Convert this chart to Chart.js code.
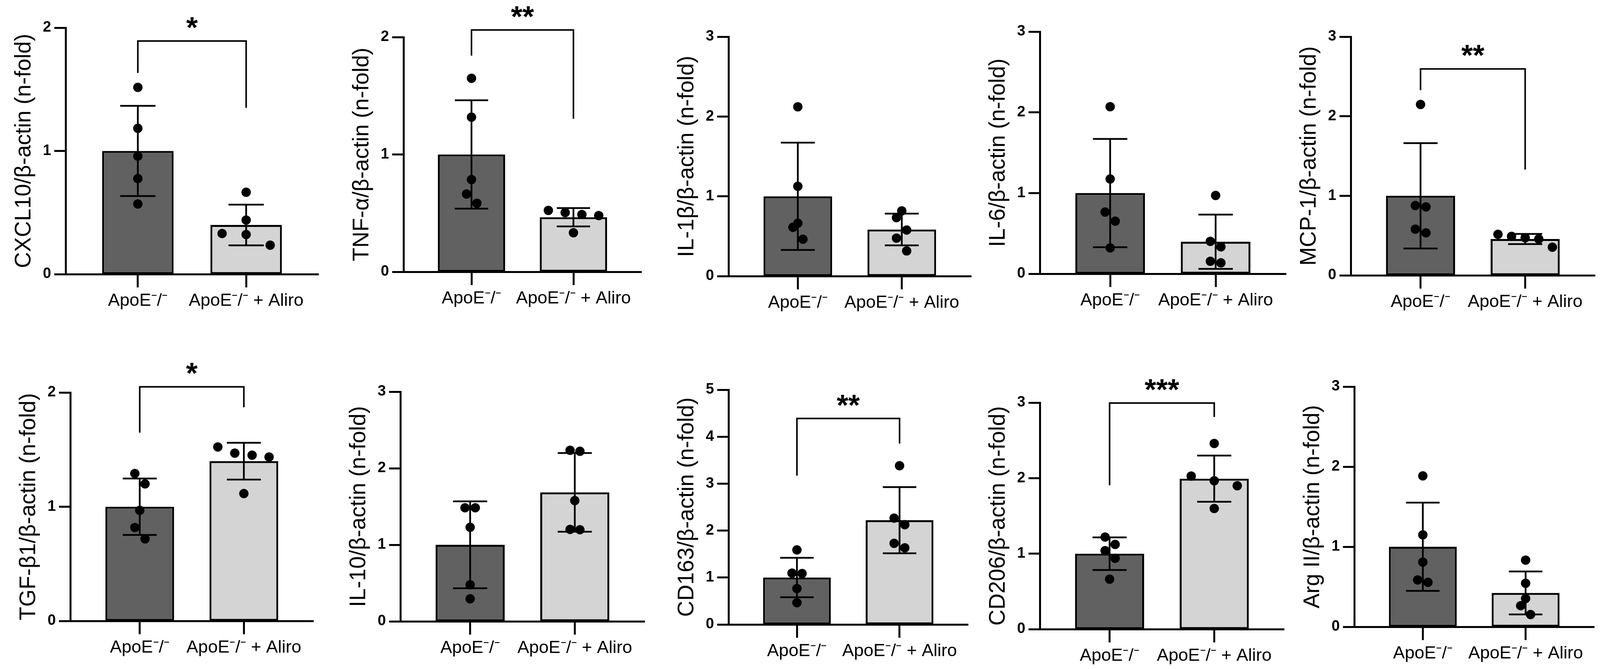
<!DOCTYPE html>
<html>
<head>
<meta charset="utf-8">
<script src="https://cdn.jsdelivr.net/npm/chart.js@4.4.1/dist/chart.umd.min.js"></script>
<style>
  html, body { margin: 0; padding: 0; background: #fff; }
  body { width: 4099px; height: 1713px; position: relative; overflow: hidden; }
  canvas { position: absolute; }
</style>
</head>
<body>
<script>
// ---- data (one entry per panel, row by row) ----
const groups = ['ApoE⁻/⁻', 'ApoE⁻/⁻ + Aliro'];
const yTitles = [
  'CXCL10/β-actin (n-fold)', 'TNF-α/β-actin (n-fold)', 'IL-1β/β-actin (n-fold)',
  'IL-6/β-actin (n-fold)', 'MCP-1/β-actin (n-fold)', 'TGF-β1/β-actin (n-fold)',
  'IL-10/β-actin (n-fold)', 'CD163/β-actin (n-fold)', 'CD206/β-actin (n-fold)',
  'Arg II/β-actin (n-fold)'
];
const yMax = [2, 2, 3, 3, 3, 2, 3, 5, 3, 3];

const meanCtrl = [1, 1, 1, 1, 1, 1, 1, 1, 1, 1];
const meanAliro = [0.399, 0.465, 0.584, 0.397, 0.457, 1.399, 1.685, 2.222, 1.993, 0.423];
const sdCtrl = [0.366, 0.462, 0.672, 0.671, 0.662, 0.247, 0.567, 0.42, 0.216, 0.551];
const sdAliro = [0.165, 0.078, 0.199, 0.336, 0.064, 0.161, 0.514, 0.705, 0.306, 0.268];

const ptsCtrl = [
  [1.516, 1.184, 0.958, 0.776, 0.57],
  [1.649, 1.318, 0.786, 0.663, 0.584],
  [2.121, 1.126, 0.663, 0.612, 0.463],
  [2.07, 1.174, 0.764, 0.652, 0.321],
  [2.148, 0.878, 0.86, 0.581, 0.534],
  [1.291, 1.2, 0.968, 0.818, 0.719],
  [1.484, 1.484, 1.229, 0.478, 0.295],
  [1.588, 1.094, 1.085, 0.766, 0.464],
  [1.22, 1.122, 1.04, 0.939, 0.662],
  [1.885, 1.149, 0.808, 0.585, 0.556]
];
const ptsAliro = [
  [0.665, 0.439, 0.33, 0.322, 0.235],
  [0.523, 0.505, 0.488, 0.479, 0.333],
  [0.817, 0.733, 0.578, 0.476, 0.316],
  [0.97, 0.402, 0.334, 0.155, 0.135],
  [0.516, 0.49, 0.473, 0.457, 0.354],
  [1.523, 1.469, 1.451, 1.435, 1.115],
  [2.235, 2.222, 1.578, 1.202, 1.197],
  [3.381, 2.266, 2.126, 1.728, 1.632],
  [2.459, 2.028, 1.966, 1.9, 1.598],
  [0.833, 0.544, 0.354, 0.264, 0.154]
];
// horizontal scatter of the dots around each group (x units)
const jitCtrl = [
  [0, 0, 0, 0, 0],
  [0, 0, 0, -0.048, 0.053],
  [0, 0, 0, -0.047, 0.049],
  [0, 0, -0.048, 0.048, 0],
  [0, -0.05, 0.052, -0.05, 0.052],
  [-0.047, 0.051, 0, -0.047, 0.051],
  [-0.049, 0.049, 0, 0, 0],
  [0, -0.048, 0.05, 0, 0],
  [-0.043, 0.053, -0.043, 0.053, 0],
  [0, 0, 0, -0.05, 0.05]
];
const jitAliro = [
  [0, 0, -0.222, 0, 0.222],
  [-0.246, -0.081, 0.083, 0.248, 0],
  [0, -0.051, 0.047, -0.051, 0.047],
  [0, -0.05, 0.05, -0.05, 0.05],
  [-0.26, -0.13, 0, 0.13, 0.26],
  [-0.25, -0.087, 0.079, 0.242, 0],
  [-0.045, 0.049, 0, -0.045, 0.049],
  [0, -0.053, 0.051, -0.053, 0.051],
  [0, -0.22, 0, 0.22, 0],
  [0, 0, 0, -0.048, 0.048]
];
// significance: label, bracket [top, left leg end, right leg end] in y units
const sigLabels = ['*', '**', '', '', '**', '*', '', '**', '***', ''];
const sigBrackets = [
  [1.892, 1.633, 1.35], [2.061, 1.842, 1.304], null, null, [2.595, 2.329, 1.33],
  [2.05, 1.649, 1.871], null, [4.388, 3.171, 3.854], [2.995, 1.906, 2.81], null
];

// ---- page layout (pixels) ----
const frames = [
  { axisX: 168,  xEnd: 815,  yTop: 71,   y0: 702 },
  { axisX: 1033, xEnd: 1642, yTop: 95,   y0: 696 },
  { axisX: 1865, xEnd: 2486, yTop: 94,   y0: 707 },
  { axisX: 2662, xEnd: 3292, yTop: 81,   y0: 701 },
  { axisX: 3458, xEnd: 4083, yTop: 94,   y0: 705 },
  { axisX: 180,  xEnd: 802,  yTop: 1005, y0: 1590 },
  { axisX: 1025, xEnd: 1650, yTop: 1003, y0: 1591 },
  { axisX: 1865, xEnd: 2478, yTop: 998,  y0: 1599 },
  { axisX: 2662, xEnd: 3287, yTop: 1031, y0: 1611 },
  { axisX: 3467, xEnd: 4081, yTop: 990,  y0: 1605 }
];
const rows = [{ top: 0, height: 860 }, { top: 870, height: 843 }];
const Y_AXIS_W = 140, X_AXIS_H = 100, PAD_L = 20, PAD_R = 12;
const CAP = 0.163;      // half width of error bar caps, x units
const FONT = "'Liberation Sans', Arial, sans-serif";

Chart.defaults.font.family = FONT;
Chart.defaults.color = '#000';

// error bars (SD) under the dots, brackets + stars on top
const annotate = {
  id: 'annotate',
  afterDatasetDraw(chart, args) {
    if (args.meta.type !== 'bar') return;
    const o = chart.options.plugins.annotate;
    const xs = chart.scales.x, ys = chart.scales.y, ctx = chart.ctx;
    const cap = xs.getPixelForValue(1 + CAP) - xs.getPixelForValue(1);
    ctx.save();
    ctx.strokeStyle = '#000';
    ctx.lineWidth = 4.5;
    o.means.forEach((m, j) => {
      const x = xs.getPixelForValue(j + 1);
      const hi = ys.getPixelForValue(m + o.sds[j]);
      const lo = ys.getPixelForValue(m - o.sds[j]);
      ctx.beginPath();
      ctx.moveTo(x, hi); ctx.lineTo(x, lo);
      ctx.moveTo(x - cap, hi); ctx.lineTo(x + cap, hi);
      ctx.moveTo(x - cap, lo); ctx.lineTo(x + cap, lo);
      ctx.stroke();
    });
    ctx.restore();
  },
  afterDraw(chart) {
    const o = chart.options.plugins.annotate;
    if (!o.bracket) return;
    const xs = chart.scales.x, ys = chart.scales.y, ctx = chart.ctx;
    const xl = xs.getPixelForValue(1), xr = xs.getPixelForValue(2);
    const top = ys.getPixelForValue(o.bracket[0]);
    ctx.save();
    ctx.strokeStyle = '#000';
    ctx.lineWidth = 4;
    ctx.lineJoin = 'miter';
    ctx.beginPath();
    ctx.moveTo(xl, ys.getPixelForValue(o.bracket[1]));
    ctx.lineTo(xl, top);
    ctx.lineTo(xr, top);
    ctx.lineTo(xr, ys.getPixelForValue(o.bracket[2]));
    ctx.stroke();
    ctx.fillStyle = '#000';
    ctx.font = 'bold 76px ' + FONT;
    ctx.textAlign = 'center';
    ctx.textBaseline = 'alphabetic';
    ctx.fillText(o.label, (xl + xr) / 2, top - 9);
    ctx.restore();
  }
};

frames.forEach((f, i) => {
  const row = rows[i < 5 ? 0 : 1];
  const left = f.axisX - Y_AXIS_W - PAD_L;
  const width = f.xEnd + PAD_R - left;
  const cv = document.createElement('canvas');
  cv.width = width;
  cv.height = row.height;
  cv.style.left = left + 'px';
  cv.style.top = row.top + 'px';
  cv.style.width = width + 'px';
  cv.style.height = row.height + 'px';
  document.body.appendChild(cv);

  const dots = ptsCtrl[i].map((v, k) => ({ x: 1 + jitCtrl[i][k], y: v }))
    .concat(ptsAliro[i].map((v, k) => ({ x: 2 + jitAliro[i][k], y: v })));

  new Chart(cv, {
    type: 'bar',
    data: {
      datasets: [{
        type: 'bar',
        data: [{ x: 1, y: meanCtrl[i] }, { x: 2, y: meanAliro[i] }],
        backgroundColor: ['#616161', '#d4d4d4'],
        borderColor: '#000',
        borderWidth: 5,
        borderSkipped: false,
        barPercentage: 0.66,
        categoryPercentage: 1,
        order: 1
      }, {
        type: 'scatter',
        data: dots,
        pointRadius: 12,
        pointBackgroundColor: '#000',
        pointBorderWidth: 0,
        clip: false,
        order: 0
      }]
    },
    options: {
      responsive: false,
      devicePixelRatio: 1,
      animation: false,
      events: [],
      layout: {
        padding: {
          left: PAD_L,
          right: PAD_R,
          top: f.yTop - row.top,
          bottom: row.top + row.height - f.y0 - X_AXIS_H
        }
      },
      plugins: {
        legend: { display: false },
        tooltip: { enabled: false },
        annotate: {
          means: [meanCtrl[i], meanAliro[i]],
          sds: [sdCtrl[i], sdAliro[i]],
          bracket: sigBrackets[i],
          label: sigLabels[i]
        }
      },
      scales: {
        x: {
          type: 'linear',
          min: 1 / 3,
          max: 8 / 3,
          offset: false,
          afterBuildTicks: (s) => { s.ticks = [{ value: 1 }, { value: 2 }]; },
          afterFit: (s) => { s.height = X_AXIS_H; },
          ticks: {
            callback: (v) => groups[v - 1],
            font: { size: 45 },
            color: '#000',
            padding: 8,
            maxRotation: 0,
            autoSkip: false
          },
          grid: {
            offset: false,
            drawOnChartArea: false,
            drawTicks: true,
            tickLength: 34,
            tickWidth: 5,
            tickColor: '#000'
          },
          border: { display: true, color: '#000', width: 5 }
        },
        y: {
          min: 0,
          max: yMax[i],
          afterFit: (s) => { s.width = Y_AXIS_W; },
          ticks: {
            stepSize: 1,
            font: { size: 38, weight: 'bold', family: "'Liberation Sans Narrow', " + FONT },
            color: '#000',
            padding: 8
          },
          grid: {
            drawOnChartArea: false,
            drawTicks: true,
            tickLength: 29,
            tickWidth: 5,
            tickColor: '#000'
          },
          border: { display: true, color: '#000', width: 5 },
          title: {
            display: true,
            text: yTitles[i],
            font: { size: 57 },
            color: '#000',
            padding: 0
          }
        }
      }
    },
    plugins: [annotate]
  });
});
</script>
</body>
</html>
